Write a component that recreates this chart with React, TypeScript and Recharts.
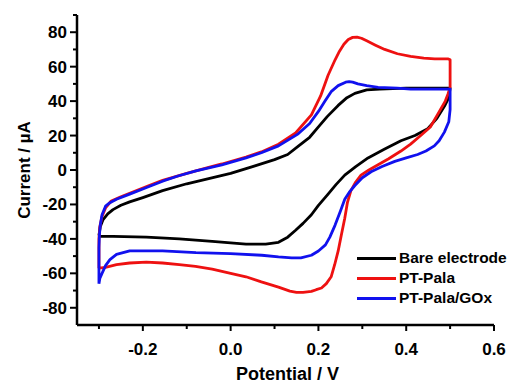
import { LineChart, Line, XAxis, YAxis, Label } from "recharts";

// Cyclic voltammograms: potential (V) and current (µA), in scan order
const bareV = [
  -0.3, -0.297, -0.291, -0.28, -0.268, -0.25, -0.23, -0.2, -0.155, -0.1, -0.05, 0.0, 0.05, 0.1, 0.13,
  0.155, 0.18, 0.2, 0.22, 0.245, 0.265, 0.283, 0.31, 0.34, 0.4, 0.45, 0.5,
  0.497, 0.487, 0.47, 0.449, 0.42, 0.388, 0.35, 0.313, 0.285, 0.26, 0.24, 0.222, 0.2, 0.184, 0.165,
  0.148, 0.13, 0.109, 0.08, 0.035, -0.042, -0.117, -0.192, -0.268, -0.3
];
const bareI = [
  -38, -33, -29, -25.5, -23, -20.5, -18.5, -16, -12, -8, -5, -2, 2, 6, 9,
  14, 19, 25, 31, 37.5, 42, 44.5, 46.5, 47, 47.5, 47.5, 47.5,
  42, 37, 30, 24, 20, 17, 12, 7, 2, -3, -8.5, -14, -20.5, -26, -31,
  -35, -39, -42, -43, -43, -41.5, -40, -39, -38.5, -38.5
];

const palaV = [
  -0.3, -0.3, -0.298, -0.293, -0.285, -0.272, -0.25, -0.23, -0.19, -0.155, -0.1, -0.05, -0.02, 0.035,
  0.07, 0.109, 0.148, 0.184, 0.205, 0.222, 0.238, 0.248, 0.258, 0.268, 0.278, 0.288, 0.298, 0.31, 0.33,
  0.351, 0.38, 0.41, 0.44, 0.465, 0.496, 0.5, 0.5,
  0.495, 0.489, 0.471, 0.455, 0.433, 0.41, 0.388, 0.36, 0.336, 0.315, 0.297, 0.285, 0.274, 0.266, 0.26,
  0.252, 0.245, 0.237, 0.229, 0.218, 0.207, 0.195, 0.184, 0.165, 0.15, 0.135, 0.109, 0.07, 0.035, 0.0,
  -0.042, -0.08, -0.117, -0.155, -0.192, -0.23, -0.26, -0.285, -0.3
];
const palaI = [
  -57, -40, -33, -27, -22, -18, -15.5, -13.5, -9.5, -6, -2, 1.5, 3.5, 7.5,
  10.5, 15, 21.5, 32, 43, 55, 64, 69, 73, 75.8, 77, 77.2, 76.5, 75, 72.5,
  70, 67.5, 66, 65, 64.5, 64.5, 64, 48,
  44, 40, 32, 25, 20, 15, 11, 6.5, 3, 0, -3, -7, -12, -19, -28,
  -38, -47, -55, -62, -66, -68.5, -69.5, -70.5, -71, -71, -70.3, -68, -65, -62, -60,
  -57.5, -56, -55, -54, -53.5, -54, -55, -56.5, -57
];

const goxV = [
  -0.3, -0.3, -0.299, -0.297, -0.293, -0.285, -0.275, -0.26, -0.23, -0.19, -0.155, -0.12, -0.079, -0.02,
  0.035, 0.07, 0.109, 0.154, 0.18, 0.2, 0.215, 0.229, 0.245, 0.262, 0.27, 0.278, 0.29, 0.31, 0.336, 0.38,
  0.41, 0.45, 0.5,
  0.5, 0.497, 0.487, 0.475, 0.464, 0.445, 0.426, 0.4, 0.374, 0.345, 0.32, 0.3, 0.283, 0.27, 0.26, 0.25,
  0.238, 0.226, 0.216, 0.2, 0.184, 0.16, 0.139, 0.109, 0.071, 0.0, -0.079, -0.155, -0.23, -0.26, -0.275,
  -0.285, -0.293, -0.298, -0.3
];
const goxI = [
  -66, -45, -38, -32, -26, -21, -19, -17, -14, -10, -6.5, -3.5, -0.5, 3,
  7, 10, 14, 21, 27, 34, 40, 45.5, 49, 51, 51.3, 51, 50, 49, 48, 47.5,
  47, 47, 47,
  35, 28, 22, 17, 14, 11, 9, 7, 5, 2, -1, -4.5, -9, -13, -17, -24,
  -32, -39, -43.5, -47, -49.5, -51, -51, -50.5, -49.5, -48.5, -48, -47, -47, -49, -52,
  -55.5, -60, -63, -66
];

const seriesNames = ["Bare electrode", "PT-Pala", "PT-Pala/GOx"];
const seriesColors = ["#000000", "#ee1111", "#1111ee"];

const potentialTicks = [-0.3, -0.2, -0.1, 0, 0.1, 0.2, 0.3, 0.4, 0.5, 0.6];
const currentTicks = [-80, -70, -60, -50, -40, -30, -20, -10, 0, 10, 20, 30, 40, 50, 60, 70, 80, 90];

const zip = (v: number[], i: number[]) => v.map((x, k) => ({ v: x, i: i[k] }));
const seriesData = [zip(bareV, bareI), zip(palaV, palaI), zip(goxV, goxI)];

const FONT = '"Liberation Sans", Arial, sans-serif';
const TICK_SIZE = 6;
const TICK_MARGIN = 2;

const XTick = ({ x, y, payload }: any) => {
  const axisY = y - TICK_SIZE - TICK_MARGIN;
  const major = Math.round(payload.value * 10) % 2 === 0;
  return (
    <g>
      <line x1={x} x2={x} y1={axisY} y2={axisY + (major ? 6 : 4)} stroke="#000" strokeWidth={2} />
      {major && (
        <text x={x} y={axisY + 30} textAnchor="middle" fontFamily={FONT} fontWeight="bold" fontSize={17} fill="#000">
          {payload.value.toFixed(1)}
        </text>
      )}
    </g>
  );
};

const YTick = ({ x, y, payload }: any) => {
  const axisX = x + TICK_SIZE + TICK_MARGIN;
  const major = payload.value % 20 === 0;
  return (
    <g>
      <line x1={axisX - (major ? 7 : 4)} x2={axisX} y1={y} y2={y} stroke="#000" strokeWidth={2} />
      {major && (
        <text x={axisX - 10} y={y} dy="0.35em" textAnchor="end" fontFamily={FONT} fontWeight="bold" fontSize={17} fill="#000">
          {payload.value}
        </text>
      )}
    </g>
  );
};

const YTitle = ({ viewBox }: any) => {
  const cx = viewBox.x + 24;
  const cy = viewBox.y + viewBox.height / 2;
  return (
    <text x={cx} y={cy} transform={`rotate(-90 ${cx} ${cy})`} textAnchor="middle" dy="0.35em"
      fontFamily={FONT} fontWeight="bold" fontSize={17} fill="#000">
      Current / µA
    </text>
  );
};

const XTitle = ({ viewBox }: any) => (
  <text x={viewBox.x + viewBox.width / 2 + 2} y={viewBox.y + 55} textAnchor="middle"
    fontFamily={FONT} fontWeight="bold" fontSize={18} fill="#000">
    Potential / V
  </text>
);

export default function App() {
  return (
    <div style={{ position: "absolute", left: 0, top: 0, width: 508, height: 384, background: "#fff" }}>
      <LineChart width={508} height={384} margin={{ top: 15, right: 14, bottom: 0, left: 0 }}>
        <XAxis
          type="number"
          dataKey="v"
          domain={[-0.35, 0.6]}
          ticks={potentialTicks}
          interval={0}
          height={59}
          tickSize={TICK_SIZE}
          tickMargin={TICK_MARGIN}
          tickLine={false}
          tick={<XTick />}
          axisLine={{ stroke: "#000", strokeWidth: 2.5 }}
        >
          <Label content={<XTitle />} />
        </XAxis>
        <YAxis
          type="number"
          domain={[-90, 90]}
          ticks={currentTicks}
          interval={0}
          width={77}
          tickSize={TICK_SIZE}
          tickMargin={TICK_MARGIN}
          tickLine={false}
          tick={<YTick />}
          axisLine={{ stroke: "#000", strokeWidth: 2.5 }}
        >
          <Label content={<YTitle />} />
        </YAxis>
        {seriesData.map((d, k) => (
          <Line
            key={seriesNames[k]}
            data={d}
            dataKey="i"
            name={seriesNames[k]}
            type="linear"
            stroke={seriesColors[k]}
            strokeWidth={2.8}
            strokeLinejoin="round"
            dot={false}
            activeDot={false}
            isAnimationActive={false}
          />
        ))}
      </LineChart>
      <div style={{ position: "absolute", left: 357, top: 248, fontFamily: FONT, fontWeight: "bold", fontSize: 15.5 }}>
        {seriesNames.map((n, k) => (
          <div key={n} style={{ display: "flex", alignItems: "center", height: 20, whiteSpace: "nowrap" }}>
            <span style={{ display: "inline-block", width: 39, height: 3, background: seriesColors[k], marginRight: 3 }} />
            <span>{n}</span>
          </div>
        ))}
      </div>
    </div>
  );
}
